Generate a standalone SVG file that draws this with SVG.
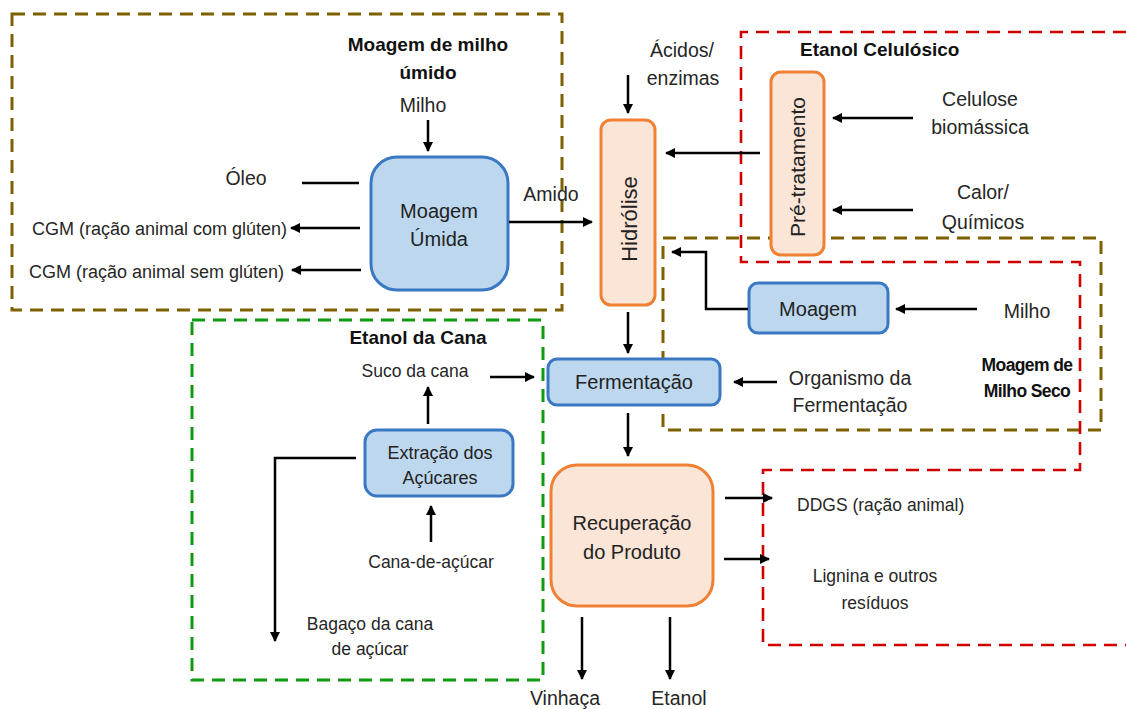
<svg xmlns="http://www.w3.org/2000/svg" width="1126" height="709" viewBox="0 0 1126 709">
<defs>
<marker id="ah" viewBox="0 0 10 10" refX="9" refY="5" markerWidth="4" markerHeight="4" orient="auto" markerUnits="strokeWidth">
<path d="M0,0 L10,5 L0,10 z" fill="#000"/>
</marker>
<style>
.reg{fill:none;stroke-width:3;stroke-dasharray:13 8}
.olive{stroke:#7f6000}
.red{stroke:#d00000;stroke-width:2.6}
.green{stroke:#119911}
.blue{fill:#bdd7ee;stroke:#3b78c3;stroke-width:3}
.orange{fill:#fbe5d6;stroke:#ef8034;stroke-width:3}
.c{fill:none;stroke:#000;stroke-width:2.5}
.a{marker-end:url(#ah)}
text{font-family:"Liberation Sans",Arial,sans-serif;fill:#262626}
.t{font-weight:bold;font-size:19px;fill:#111}
.n{font-size:20px;text-anchor:middle;fill:#222}
.l{font-size:19.5px;text-anchor:middle}
.s{font-size:17.5px}
.m{text-anchor:middle}
</style>
</defs>
<rect width="1126" height="709" fill="#fff"/>
<g id="regions">
<rect class="reg olive" x="12" y="14" width="550" height="296"/>
<rect class="reg olive" x="663" y="238" width="438" height="192"/>
<rect class="reg green" x="192" y="320" width="351" height="360"/>
<path class="reg red" d="M1126,32 H741 V262 H1080 V470 H763 V645 H1126"/>
</g>
<g id="titles">
<text class="t m" x="428" y="51">Moagem de milho</text>
<text class="t m" x="428" y="79">úmido</text>
<text class="t" x="800" y="56">Etanol Celulósico</text>
<text class="t m" x="418" y="344">Etanol da Cana</text>
<text class="t m" x="1027" y="371" style="font-size:17.5px;letter-spacing:-0.6px">Moagem de</text>
<text class="t m" x="1027" y="397" style="font-size:17.5px;letter-spacing:-0.6px">Milho Seco</text>
</g>
<g id="node-moagem-umida">
<rect class="blue" x="371" y="157" width="137" height="133" rx="26"/>
<text class="n" x="439" y="218">Moagem</text>
<text class="n" x="439" y="246">Úmida</text>
</g>
<g id="node-hidrolise">
<rect class="orange" x="601" y="120" width="54" height="185" rx="10"/>
<text class="n" style="font-size:22px" transform="translate(637,219) rotate(-90)">Hidrólise</text>
</g>
<g id="node-pretratamento">
<rect class="orange" x="771" y="72" width="53" height="183" rx="10"/>
<text class="n" style="font-size:21px" transform="translate(805,167) rotate(-90)">Pré-tratamento</text>
</g>
<g id="node-moagem">
<rect class="blue" x="749" y="283" width="139" height="50" rx="9"/>
<text class="n" x="818" y="316">Moagem</text>
</g>
<g id="node-fermentacao">
<rect class="blue" x="548" y="359" width="172" height="46" rx="9"/>
<text class="n" x="634" y="389">Fermentação</text>
</g>
<g id="node-extracao">
<rect class="blue" x="365" y="430" width="148" height="66" rx="12"/>
<text class="n" x="440" y="459" style="font-size:18px">Extração dos</text>
<text class="n" x="440" y="484" style="font-size:18px">Açúcares</text>
</g>
<g id="node-recuperacao">
<rect class="orange" x="551" y="465" width="162" height="141" rx="26"/>
<text class="n" x="632" y="530">Recuperação</text>
<text class="n" x="632" y="559">do Produto</text>
</g>
<g id="labels">
<text class="l" x="423" y="112">Milho</text>
<text class="l" x="246" y="185">Óleo</text>
<text class="s" x="287" y="235" text-anchor="end" style="font-size:18px">CGM (ração animal com glúten)</text>
<text class="s" x="284" y="278" text-anchor="end" style="font-size:18px">CGM (ração animal sem glúten)</text>
<text class="l" x="551" y="201">Amido</text>
<text class="l" x="682" y="57">Ácidos/</text>
<text class="l" x="683" y="85">enzimas</text>
<text class="l" x="980" y="106">Celulose</text>
<text class="l" x="980" y="134">biomássica</text>
<text class="l" x="983" y="199">Calor/</text>
<text class="l" x="983" y="229">Químicos</text>
<text class="l" x="1027" y="318">Milho</text>
<text class="s m" x="415" y="377">Suco da cana</text>
<text class="l" x="850" y="385">Organismo da</text>
<text class="l" x="850" y="412">Fermentação</text>
<text class="s m" x="431" y="568">Cana-de-açúcar</text>
<text class="s m" x="370" y="630">Bagaço da cana</text>
<text class="s m" x="370" y="655">de açúcar</text>
<text class="s" x="797" y="511">DDGS (ração animal)</text>
<text class="s m" x="875" y="582">Lignina e outros</text>
<text class="s m" x="875" y="609">resíduos</text>
<text class="l" x="565" y="705">Vinhaça</text>
<text class="l" x="679" y="705">Etanol</text>
</g>
<g id="connectors">
<line class="c a" x1="428" y1="120" x2="428" y2="151"/>
<line class="c" x1="302" y1="183" x2="359" y2="183"/>
<line class="c a" x1="360" y1="228" x2="291" y2="228"/>
<line class="c a" x1="361" y1="270" x2="292" y2="270"/>
<line class="c a" x1="509" y1="222" x2="592" y2="222"/>
<line class="c a" x1="628" y1="75" x2="628" y2="113"/>
<line class="c a" x1="760" y1="153" x2="666" y2="153"/>
<line class="c a" x1="913" y1="118" x2="833" y2="118"/>
<line class="c a" x1="913" y1="210" x2="833" y2="210"/>
<polyline class="c a" points="748,309 706,309 706,252 672,252"/>
<line class="c a" x1="977" y1="309" x2="896" y2="309"/>
<line class="c a" x1="628" y1="312" x2="628" y2="353"/>
<line class="c a" x1="490" y1="377" x2="534" y2="377"/>
<line class="c a" x1="428" y1="424" x2="428" y2="387"/>
<line class="c a" x1="431" y1="542" x2="431" y2="506"/>
<polyline class="c a" points="356,458 275,458 275,641"/>
<line class="c a" x1="777" y1="382" x2="734" y2="382"/>
<line class="c a" x1="628" y1="413" x2="628" y2="456"/>
<line class="c a" x1="725" y1="498" x2="772" y2="498"/>
<line class="c a" x1="724" y1="559" x2="769" y2="559"/>
<line class="c a" x1="582" y1="617" x2="582" y2="679"/>
<line class="c a" x1="670" y1="617" x2="670" y2="679"/>
</g>
</svg>
